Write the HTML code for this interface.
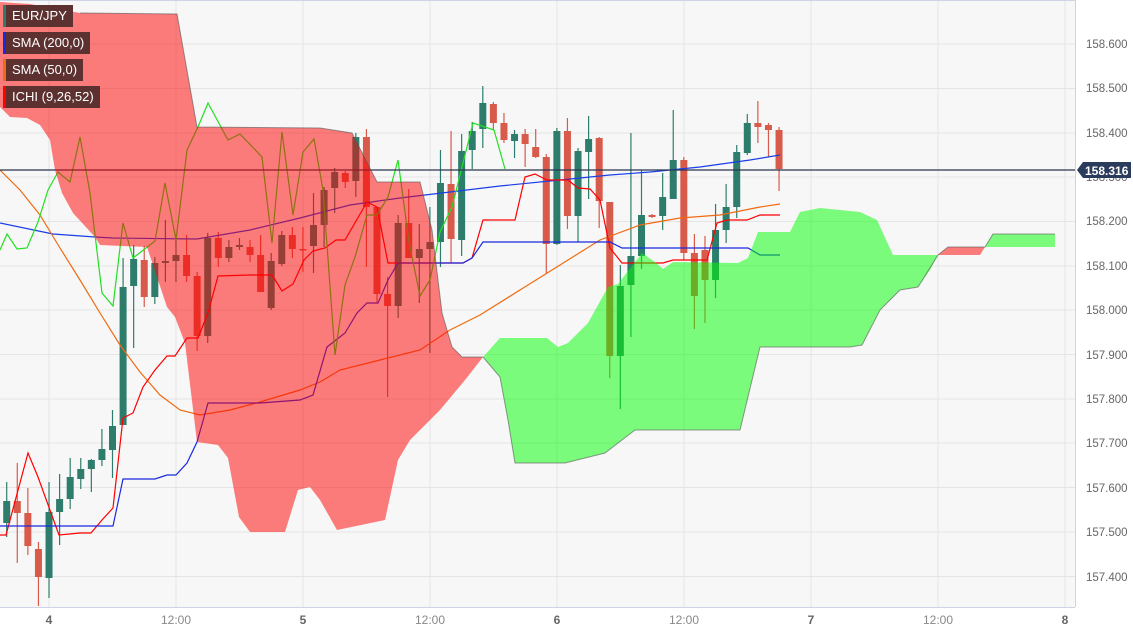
<!DOCTYPE html>
<html><head><meta charset="utf-8"><style>
html,body{margin:0;padding:0;background:#fff;}
svg{display:block;font-family:"Liberation Sans",sans-serif;}
.leg{position:absolute;left:3px;height:22px;background:#5e3131;color:#fff;font:13px "Liberation Sans",sans-serif;line-height:22px;padding:0 6px 0 9px;box-sizing:border-box;white-space:nowrap;}
.leg i{position:absolute;left:0;top:0;width:3px;height:22px;}
</style></head><body>
<div style="position:relative;width:1133px;height:629px;">
<svg id="s" width="1133" height="629" viewBox="0 0 1133 629">
<rect x="0" y="0" width="1075" height="607" fill="#f7f7f7"/>
<g stroke="#e4e4e4" stroke-width="1">
<line x1="49" y1="0" x2="49" y2="607"/><line x1="176" y1="0" x2="176" y2="607"/><line x1="303" y1="0" x2="303" y2="607"/><line x1="430" y1="0" x2="430" y2="607"/><line x1="557" y1="0" x2="557" y2="607"/><line x1="684" y1="0" x2="684" y2="607"/><line x1="811" y1="0" x2="811" y2="607"/><line x1="938" y1="0" x2="938" y2="607"/><line x1="1065" y1="0" x2="1065" y2="607"/>
<line x1="0" y1="44" x2="1075" y2="44"/><line x1="0" y1="88.5" x2="1075" y2="88.5"/><line x1="0" y1="133" x2="1075" y2="133"/><line x1="0" y1="177" x2="1075" y2="177"/><line x1="0" y1="221.5" x2="1075" y2="221.5"/><line x1="0" y1="266" x2="1075" y2="266"/><line x1="0" y1="310" x2="1075" y2="310"/><line x1="0" y1="354.5" x2="1075" y2="354.5"/><line x1="0" y1="399" x2="1075" y2="399"/><line x1="0" y1="443" x2="1075" y2="443"/><line x1="0" y1="487.5" x2="1075" y2="487.5"/><line x1="0" y1="532" x2="1075" y2="532"/><line x1="0" y1="576.5" x2="1075" y2="576.5"/>
</g>
<g id="candles"></g>
<g fill="none" stroke-width="1.2">
<polyline stroke="#1a3fe8" points="0,223 53,234 95,237 113,238 197,239 250,230 300,218 350,205 400,198 450,192 500,186 560,180 610,175 650,172 700,167 750,160 780,155"/>
<polyline stroke="#f06a10" points="0,170 20,190 40,215 60,248 80,280 100,313 120,345 140,372 160,395 180,410 200,415 230,410 260,402 300,390 320,382 340,370 380,360 420,350 450,330 480,315 520,290 560,265 600,240 640,225 680,218 720,215 760,207 780,204"/>
<polyline stroke="#ff0000" points="0,535 6,535 28,453 38,477 59,535 80,533 91,533 102,520 113,508 123,418 133,413 143,387 155,370 167,356 175,356 187,338 198,338 208,313 218,276 250,275 272,275 282,291 293,284 304,260 313,251 325,248 336,240 345,240 367,202 377,207 388,263 463,263 472,258 483,220 515,220 525,177 535,174 547,180 568,180 578,188 590,189 600,200 610,248 622,263 663,263 673,260 707,260 717,223 727,220 747,220 760,215 780,215"/>
<polyline stroke="#1a28e0" points="0,526 113,526 123,479 155,479 167,475 176,475 187,463 197,442 208,403 260,403 300,400 313,395 327,347 345,333 357,313 367,303 378,303 388,280 398,263 463,263 472,258 483,242 610,242 622,248 748,248 760,255 780,255"/>
<polyline stroke="#22e022" points="0,250 7,234 17,249 27,248 38,222 48,190 58,172 70,182 80,137 90,193 102,293 113,306 123,223 133,258 155,241 165,183 176,240 187,150 198,127 208,103 228,140 240,134 262,157 272,243 282,132 293,215 303,152 314,139 323,190 335,355 345,285 355,257 367,215 377,215 388,197 398,160 409,242 420,296 430,280 440,232 452,207 463,163 473,123 494,130 505,169"/>
<line x1="0" y1="170" x2="1075" y2="170" stroke="#2a3550" stroke-width="1.2"/>
</g>
<g fill-opacity="0.5">
<polygon fill="#ff0000" points="0,2 30,4 80,13 177,14 197,127 320,128 352,133 377,182 420,182 432,230 442,313 452,347 462,357 483,357 465,380 440,410 410,440 398,460 385,520 337,530 320,500 310,487 298,490 285,532 250,532 239,517 228,458 218,445 197,442 185,343 175,317 167,307 147,247 100,245 95,237 73,213 62,193 55,170 50,140 40,125 27,118 10,117 0,107"/>
<polygon fill="#00ff00" points="483,357 500,338 547,338 558,347 568,343 588,323 608,287 618,284 642,253 655,262 663,269 673,262 738,263 748,258 758,232 790,232 800,212 820,208 860,212 877,220 893,255 938,255 930,270 918,287 900,290 880,310 862,345 850,347 760,347 740,430 635,430 605,453 565,463 515,463 508,420 500,377"/>
<polygon fill="#ff0000" points="938,255 948,247 985,247 980,255"/>
<polygon fill="#00ff00" points="985,247 993,234 1055,234 1055,247"/>
</g>
<g fill="none" stroke="#555" stroke-opacity="0.6" stroke-width="1">
<polyline points="80,13 177,14 197,127 320,128 352,133 377,182 420,182 432,230 442,313 452,347 462,357 483,357"/>
<polyline points="483,357 500,377 508,420 515,463 565,463 605,453 635,430 740,430 760,347 850,347 862,345 880,310 900,290 918,287 938,255 948,247 985,247 993,234 1055,234"/>
</g>
<line x1="0" y1="0.5" x2="1075" y2="0.5" stroke="#cfd3e6"/>
<line x1="1075.5" y1="0" x2="1075.5" y2="607" stroke="#cfd3e6"/>
<line x1="0" y1="607.5" x2="1075" y2="607.5" stroke="#cfd3e6"/>
<g font-size="11.5" fill="#666">
<text x="1086" y="48">158.600</text><text x="1086" y="92">158.500</text><text x="1086" y="137">158.400</text><text x="1086" y="181">158.300</text><text x="1086" y="225">158.200</text><text x="1086" y="270">158.100</text><text x="1086" y="314">158.000</text><text x="1086" y="359">157.900</text><text x="1086" y="403">157.800</text><text x="1086" y="447">157.700</text><text x="1086" y="492">157.600</text><text x="1086" y="536">157.500</text><text x="1086" y="581">157.400</text>
</g>
<polygon points="1077,170 1083,162 1131,162 1131,178 1083,178" fill="#2b3b5c"/>
<text x="1085" y="175" font-size="12" font-weight="bold" fill="#fff">158.316</text>
<g font-size="12" text-anchor="middle">
<text x="49" y="624" fill="#666" font-weight="bold">4</text>
<text x="176" y="624" fill="#888">12:00</text>
<text x="303" y="624" fill="#666" font-weight="bold">5</text>
<text x="430" y="624" fill="#888">12:00</text>
<text x="557" y="624" fill="#666" font-weight="bold">6</text>
<text x="684" y="624" fill="#888">12:00</text>
<text x="811" y="624" fill="#666" font-weight="bold">7</text>
<text x="938" y="624" fill="#888">12:00</text>
<text x="1065" y="624" fill="#666" font-weight="bold">8</text>
</g>
</svg>
<div class="leg" style="top:5px;"><i style="background:#2e7d6c"></i>EUR/JPY</div>
<div class="leg" style="top:32px;"><i style="background:#1a28e0"></i>SMA (200,0)</div>
<div class="leg" style="top:59px;"><i style="background:#f06a10"></i>SMA (50,0)</div>
<div class="leg" style="top:86px;"><i style="background:#ff0000"></i>ICHI (9,26,52)</div>
</div>
<script>
var d=[[501,523,482,537,1],[501,513,463,563,0],[513,546,488,555,0],[549,577,542,606,0],[512,578,482,598,1],[499,512,474,545,1],[477,499,458,509,1],[469,479,458,489,1],[460,469,459,492,1],[449,460,429,466,1],[426,450,410,478,1],[287,425,258,425,1],[259,286,245,348,1],[260,297,246,307,0],[263,297,257,304,1],[261,263,220,282,1],[255,261,235,282,1],[255,276,235,282,0],[276,336,272,351,0],[238,336,233,343,1],[238,258,232,267,0],[247,258,240,262,1],[245,247,238,250,1],[247,255,240,262,0],[255,292,235,292,0],[261,308,253,310,1],[235,264,231,266,1],[235,249,227,258,0],[249,250,227,272,0],[225,246,193,273,1],[190,225,187,247,1],[172,188,168,213,1],[173,182,171,188,0],[137,181,133,197,1],[137,207,129,267,0],[207,294,207,303,0],[294,306,277,397,0],[223,306,215,318,1],[223,258,189,258,0],[249,258,224,303,1],[242,249,207,353,1],[183,242,150,267,1],[184,239,131,263,0],[151,240,134,256,1],[131,150,122,169,1],[103,129,86,148,1],[104,123,102,130,0],[123,140,113,143,0],[134,141,130,158,1],[134,144,129,167,0],[147,157,129,158,0],[157,244,154,274,0],[131,244,128,245,1],[131,216,118,229,0],[151,216,148,242,1],[139,152,116,199,1],[138,201,137,228,0],[202,356,202,378,0],[286,356,265,409,1],[256,285,133,337,1],[215,256,170,269,1],[215,217,214,218,0],[197,216,173,230,1],[160,199,110,199,1],[160,253,157,260,0],[253,296,234,329,0],[250,280,236,323,0],[230,280,204,298,1],[207,230,184,243,1],[152,207,145,218,1],[123,153,114,155,1],[123,127,101,143,0],[125,130,123,157,0],[130,169,127,191,0]];
var g=document.getElementById('candles'),h='';
for(var i=0;i<d.length;i++){var c=d[i],x=6.7+i*10.58,col=c[4]?'#2e7d6c':'#d85a4b';
h+='<line x1="'+x+'" x2="'+x+'" y1="'+c[2]+'" y2="'+c[3]+'" stroke="'+col+'" stroke-width="1.2"/>';
h+='<rect x="'+(x-3.5)+'" y="'+c[0]+'" width="7" height="'+Math.max(1.5,c[1]-c[0])+'" fill="'+col+'"/>';}
g.innerHTML=h;
</script>
</body></html>
